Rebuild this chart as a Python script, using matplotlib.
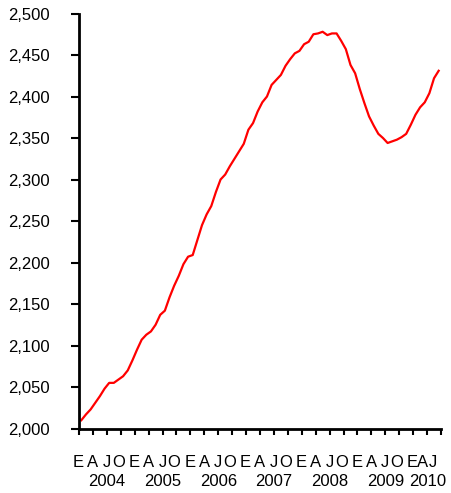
import numpy as np
import matplotlib
matplotlib.use("Agg")
import matplotlib.pyplot as plt
from matplotlib.ticker import FuncFormatter, MultipleLocator

# monthly series, Jan 2004 - Jun 2010
values = [2010, 2017, 2023, 2031, 2039, 2048, 2055, 2055, 2059, 2063, 2070, 2082,
          2095, 2107, 2113, 2117, 2125, 2137, 2142, 2158, 2172, 2184, 2198, 2207,
          2209, 2227, 2245, 2258, 2268, 2285, 2300, 2306, 2316, 2325, 2334, 2343,
          2360, 2368, 2382, 2393, 2400, 2414, 2420, 2426, 2437, 2445, 2452, 2455,
          2463, 2466, 2475, 2476, 2478, 2474, 2476, 2476, 2467, 2457, 2438, 2428,
          2409, 2392, 2376, 2365, 2355, 2350, 2344, 2346, 2348, 2351, 2355, 2366,
          2378, 2387, 2393, 2404, 2422, 2431]
years = ["2004", "2005", "2006", "2007", "2008", "2009", "2010"]
month_letters = ["E", "A", "J", "O"]
last_letters = ["E", "A", "J"]

plt.rcParams["font.family"] = ["Liberation Sans", "DejaVu Sans"]
plt.rcParams["font.size"] = 12

fig = plt.figure(figsize=(4.51, 4.93), dpi=100)
ax = fig.add_axes([0.1752, 0.1308, 0.8026, 0.8418])

n = len(values)
x = np.arange(n) + 0.5
ax.plot(x, values, color="#ff0000", lw=1.6, solid_joinstyle="round")

ax.set_xlim(0, n)
ax.set_ylim(2000, 2500)
ax.yaxis.set_major_locator(MultipleLocator(50))
ax.yaxis.set_major_formatter(FuncFormatter(lambda v, p: "{:,.0f}".format(v)))
ax.xaxis.set_major_locator(MultipleLocator(3))
ax.set_xticklabels([])

for s in ["top", "right"]:
    ax.spines[s].set_visible(False)
for s in ["left", "bottom"]:
    ax.spines[s].set_linewidth(2)
ax.tick_params(axis="y", direction="out", length=6, width=1.5, pad=15)
ax.tick_params(axis="x", direction="out", length=4, width=1.5)

trans = ax.get_xaxis_transform()
offsets = [-0.1, 3.0, 6.0, 8.5]
for k, yr in enumerate(years):
    if yr == "2010":
        pos = [71.8, 74.0, 76.3]
        letters = last_letters
        ax.text(75.2, -0.127, yr, transform=trans, ha="center", va="center")
    else:
        pos = [12 * k + o for o in offsets]
        letters = month_letters
        ax.text(12 * k + 6, -0.127, yr, transform=trans, ha="center", va="center")
    for p, l in zip(pos, letters):
        ax.text(p, -0.081, l, transform=trans, ha="center", va="center")

fig.savefig("out.png", dpi=100)
